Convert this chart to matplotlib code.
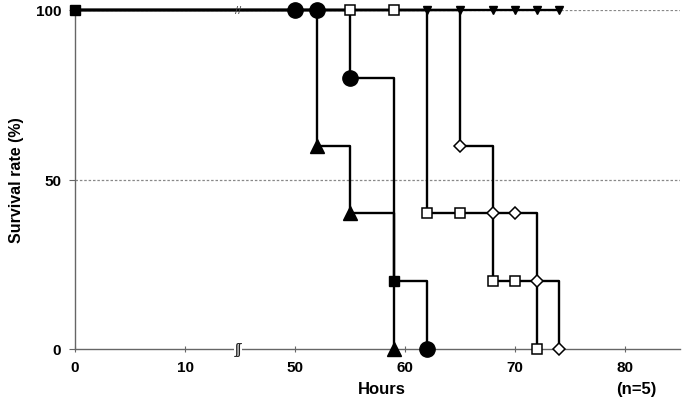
import numpy as np
import matplotlib.pyplot as plt

plt.rcParams['font.family'] = ['Liberation Sans', 'DejaVu Sans']

# survival data (hours, %)
circ_t = [0, 50, 52, 55, 59, 62]
circ_s = [100, 100, 100, 80, 20, 0]
tri_t = [0, 52, 55, 59]
tri_s = [100, 60, 40, 0]
osq_t = [0, 55, 59, 62, 65, 68, 70, 72]
osq_s = [100, 100, 100, 40, 40, 20, 20, 0]
dia_t = [0, 65, 68, 70, 72, 74]
dia_s = [100, 60, 40, 40, 20, 0]
inv_t = [0, 62, 65, 68, 70, 72, 74]
inv_s = [100, 100, 100, 100, 100, 100, 100]
fsq_t = [0, 59]
fsq_s = [100, 20]

xticks = [0, 10, 50, 60, 70, 80]
yticks = [0, 50, 100]
break_h = 29

# broken x axis: 12..48 h squeezed
bp_h = [-100, 12, 48, 200]
bp_d = [-100, 12, 18, 170]
def fwd(h):
    return np.interp(h, bp_h, bp_d)
def inv(d):
    return np.interp(d, bp_d, bp_h)

fig = plt.figure(figsize=(6.85, 4.02), dpi=100)
ax = fig.add_axes([75/685, 52/402, 605/685, 339/402])
ax.set_xscale('function', functions=(fwd, inv))
ax.set_xlim(0, 85)
ax.set_ylim(0, 100)

for y in [50, 100]:
    ax.axhline(y, color='#888888', lw=0.9, ls=(0, (2, 1.5)), zorder=1)

lw = 1.7
for t, s in [(circ_t, circ_s), (tri_t, tri_s), (osq_t, osq_s), (dia_t, dia_s), (inv_t, inv_s)]:
    ax.plot(t, s, drawstyle='steps-post', color='black', lw=lw, zorder=2, clip_on=False)

ax.plot(circ_t[1:4] + circ_t[5:], circ_s[1:4] + circ_s[5:], 'o', color='black', ms=11, zorder=4, clip_on=False)
ax.plot(tri_t[1:], tri_s[1:], '^', color='black', ms=10, zorder=4, clip_on=False)
ax.plot(osq_t[1:], osq_s[1:], 's', mfc='white', mec='black', mew=1.1, ms=7.5, zorder=4, clip_on=False)
ax.plot(dia_t[1:], dia_s[1:], 'D', mfc='white', mec='black', mew=1.1, ms=6.5, zorder=4, clip_on=False)
ax.plot(inv_t[1:], inv_s[1:], 'v', color='black', ms=6, zorder=4, clip_on=False)
ax.plot(fsq_t, fsq_s, 's', color='black', ms=7, zorder=4, clip_on=False)

for sp in ['top', 'right']:
    ax.spines[sp].set_visible(False)
for sp in ['left', 'bottom']:
    ax.spines[sp].set_color('#666666')
    ax.spines[sp].set_linewidth(1.0)

ax.set_xticks(xticks)
ax.set_xticklabels([str(v) for v in xticks])
ax.set_yticks(yticks)
ax.set_yticklabels([str(v) for v in yticks])
ax.tick_params(axis='x', direction='inout', length=4, width=0.8, color='#666666', pad=6, labelsize=11)
ax.tick_params(axis='y', direction='out', length=4, width=0.8, color='#666666', pad=6, labelsize=11)
for lab in ax.get_xticklabels() + ax.get_yticklabels():
    lab.set_fontweight('bold')

# break marks
ax.text(break_h, 100, '//', ha='center', va='center', fontsize=8, color='#444444', zorder=5,
        clip_on=False)
ax.text(break_h, 0, 'ʃʃ', ha='center', va='center', fontsize=11, color='#222222', zorder=5,
        bbox=dict(boxstyle='square,pad=0.05', fc='white', ec='none'), clip_on=False)

ax.set_ylabel('Survival rate (%)', fontsize=11.5, fontweight='bold', labelpad=8)
fig.text(382/685, 1 - 390/402, 'Hours', ha='center', va='center', fontsize=12, fontweight='bold')
fig.text(636/685, 1 - 390/402, '(n=5)', ha='center', va='center', fontsize=12, fontweight='bold')

fig.savefig('out.png', dpi=100)
